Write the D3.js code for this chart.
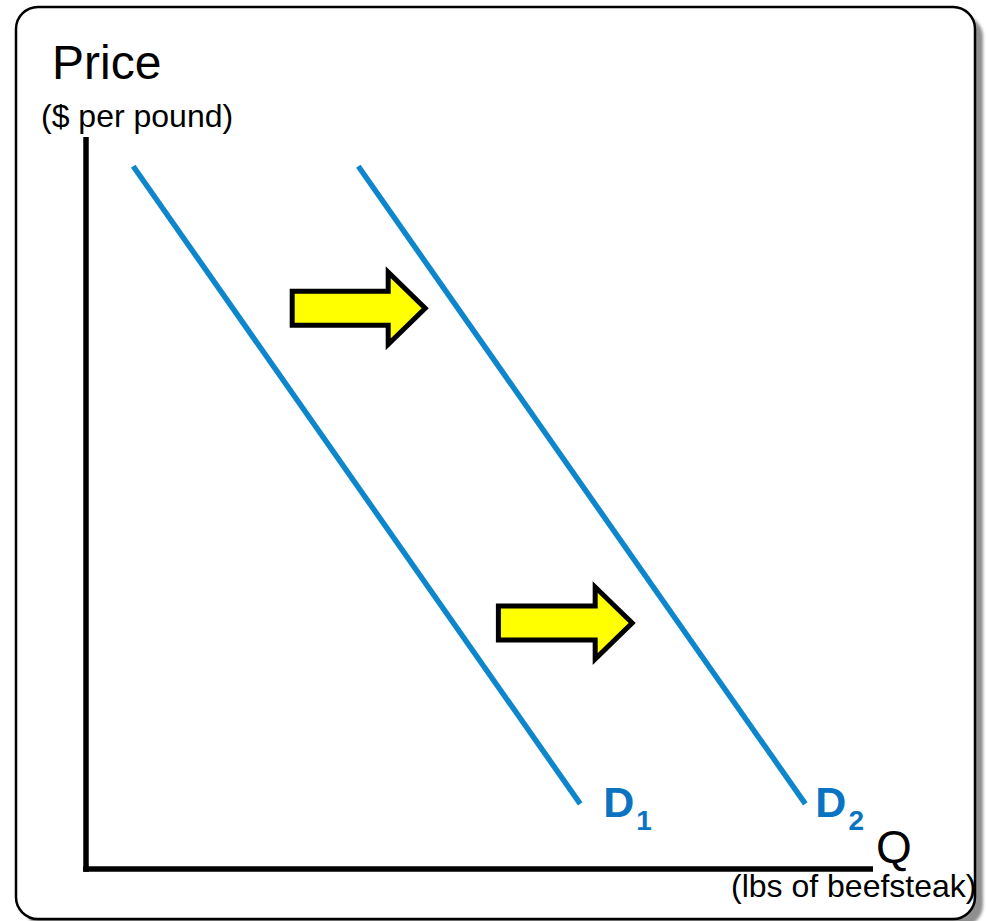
<!DOCTYPE html>
<html>
<head>
<meta charset="utf-8">
<script src="https://cdn.jsdelivr.net/npm/d3@7"></script>
<style>
  html, body { margin: 0; padding: 0; background: #ffffff; }
  svg { display: block; }
  text { font-family: "Liberation Sans", Arial, sans-serif; }
</style>
</head>
<body>
<script>
// Demand curves (quantity, price) in axis units 0–100
const demand1 = [ { q: 6.0, p: 96.0 }, { q: 62.8, p: 8.9 } ];
const demand2 = [ { q: 34.6, p: 96.0 }, { q: 91.4, p: 8.9 } ];
const curveNames = ["D1", "D2"];

// Rightward shift arrows: start and end quantity at a given price
const shiftFrom = [26.2, 52.4];
const shiftTo   = [43.1, 69.4];
const shiftAt   = [76.6, 33.6];

const priceTitle = "Price";
const priceUnit = "($ per pound)";
const qtyTitle = "Q";
const qtyUnit = "(lbs of beefsteak)";

const W = 986, H = 921;
const svg = d3.select("body").append("svg").attr("width", W).attr("height", H);

const defs = svg.append("defs");
defs.append("filter").attr("id", "soft")
  .attr("x", "-5%").attr("y", "-5%").attr("width", "110%").attr("height", "110%")
  .append("feGaussianBlur").attr("stdDeviation", 1.5);

// Frame with soft shadow
svg.append("rect")
  .attr("x", 24).attr("y", 15).attr("width", 959).attr("height", 912)
  .attr("rx", 22).attr("fill", "#8f8f8f").attr("filter", "url(#soft)");
svg.append("rect")
  .attr("x", 16).attr("y", 7).attr("width", 959).attr("height", 912)
  .attr("rx", 22).attr("fill", "#ffffff").attr("stroke", "#000").attr("stroke-width", 2.5);

const x = d3.scaleLinear().domain([0, 100]).range([86, 873]);
const y = d3.scaleLinear().domain([0, 100]).range([869, 137]);

// Axes
const g = svg.append("g");
g.append("line").attr("x1", x(0)).attr("x2", x(0))
  .attr("y1", y(100)).attr("y2", y(0) + 2.8)
  .attr("stroke", "#000").attr("stroke-width", 5.5);
g.append("line").attr("x1", x(0) - 2.8).attr("x2", x(100))
  .attr("y1", y(0)).attr("y2", y(0))
  .attr("stroke", "#000").attr("stroke-width", 5.5);

// Demand curves with their labels
const labelDx = [23, 10];
const line = d3.line().x(d => x(d.q)).y(d => y(d.p));
[demand1, demand2].forEach((pts, i) => {
  g.append("path").attr("d", line(pts))
    .attr("fill", "none").attr("stroke", "#0d86cc").attr("stroke-width", 5.5);
  const end = pts[pts.length - 1];
  const t = g.append("text")
    .attr("x", x(end.q) + labelDx[i]).attr("y", y(end.p) + 13)
    .attr("fill", "#0b74c2").attr("font-weight", "bold").attr("font-size", 43);
  t.append("tspan").text(curveNames[i].charAt(0));
  t.append("tspan").attr("font-size", 28).attr("dx", 2).attr("dy", 13).text(curveNames[i].slice(1));
});

// Shift arrows
shiftFrom.forEach((q0, i) => {
  const x0 = x(q0), x1 = x(shiftTo[i]), yc = y(shiftAt[i]);
  const bh = 17, hh = 36, hl = 37;
  const pts = [
    [x0, yc - bh], [x1 - hl, yc - bh], [x1 - hl, yc - hh], [x1, yc],
    [x1 - hl, yc + hh], [x1 - hl, yc + bh], [x0, yc + bh]
  ];
  g.append("path").attr("d", "M" + pts.map(p => p.join(",")).join("L") + "Z")
    .attr("fill", "#ffff00").attr("stroke", "#000").attr("stroke-width", 5)
    .attr("stroke-linejoin", "miter");
});

// Axis titles
svg.append("text").attr("x", 52).attr("y", 79).attr("font-size", 48).attr("fill", "#000").text(priceTitle);
svg.append("text").attr("x", 41).attr("y", 127).attr("font-size", 32).attr("fill", "#000").text(priceUnit);
svg.append("text").attr("x", 876).attr("y", 863).attr("font-size", 46).attr("fill", "#000").text(qtyTitle);
svg.append("text").attr("x", 731).attr("y", 897).attr("font-size", 32).attr("fill", "#000").text(qtyUnit);
</script>
</body>
</html>
